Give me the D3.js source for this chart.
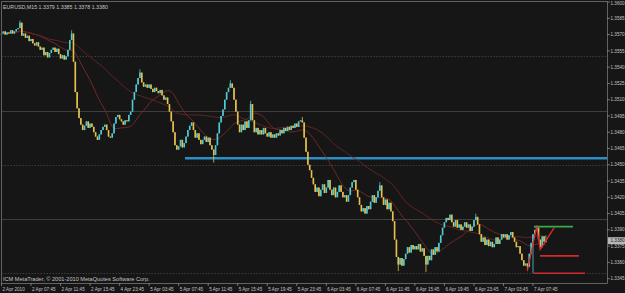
<!DOCTYPE html>
<html>
<head>
<meta charset="utf-8">
<script src="https://cdn.jsdelivr.net/npm/d3@7"></script>
<style>
    html, body { margin: 0; padding: 0; background: #161616; }
    svg { display: block; }
    text { font-family: "Liberation Sans", Arial, sans-serif; font-size: 4.6px; fill: #c4c4c4; }
    .hdr { font-size: 5.3px; }
    .ftr { font-size: 5.6px; }
</style>
</head>
<body>
<div id="chart"></div>
<script>
/* chart texts */
const headerText = "EURUSD,M15  1.3379 1.3385 1.3378 1.3380";
const footerText = "ICM MetaTrader, \u00a9 2001-2010 MetaQuotes Software Corp.";

/* time axis labels, one every 16 bars (4 hours of M15) */
const timeLabels = ["2 Apr 2010", "2 Apr 07:45", "2 Apr 11:45", "2 Apr 15:45", "4 Apr 23:45",
    "5 Apr 03:45", "5 Apr 07:45", "5 Apr 11:45", "5 Apr 15:45", "5 Apr 19:45", "5 Apr 23:45",
    "6 Apr 03:45", "6 Apr 07:45", "6 Apr 11:45", "6 Apr 15:45", "6 Apr 19:45", "6 Apr 23:45",
    "7 Apr 03:45", "7 Apr 07:45"];
const barsPerLabel = 16;

/* price axis labels */
const priceTicks = [1.3600, 1.3585, 1.3570, 1.3555, 1.3540, 1.3525, 1.3510, 1.3495, 1.3480,
    1.3465, 1.3450, 1.3435, 1.3420, 1.3405, 1.3390, 1.3375, 1.3360, 1.3345];
const lastPrice = 1.3380;

/* M15 closes, open of each bar is the previous close */
const firstOpen = 1.3570;
const closes = [
    1.3571, 1.3573, 1.3570, 1.3572, 1.3571, 1.3574, 1.3571, 1.3573, 1.3575, 1.3576,
    1.3581, 1.3569, 1.3571, 1.3567, 1.3569, 1.3564, 1.3566, 1.3562, 1.3560, 1.3563,
    1.3559, 1.3556, 1.3558, 1.3551, 1.3554, 1.3549, 1.3553, 1.3556, 1.3558, 1.3554,
    1.3557, 1.3552, 1.3548, 1.3551, 1.3547, 1.3550, 1.3556, 1.3565, 1.3571, 1.3545,
    1.3517, 1.3502, 1.3493, 1.3487, 1.3482, 1.3486, 1.3490, 1.3484, 1.3488, 1.3485,
    1.3480, 1.3476, 1.3473, 1.3478, 1.3482, 1.3485, 1.3487, 1.3482, 1.3476, 1.3475,
    1.3479, 1.3488, 1.3494, 1.3496, 1.3492, 1.3490, 1.3487, 1.3491, 1.3490, 1.3496,
    1.3499, 1.3510, 1.3517, 1.3524, 1.3530, 1.3535, 1.3526, 1.3522, 1.3524, 1.3521,
    1.3524, 1.3520, 1.3517, 1.3521, 1.3518, 1.3516, 1.3519, 1.3514, 1.3510, 1.3512,
    1.3506, 1.3499, 1.3490, 1.3480, 1.3468, 1.3464, 1.3467, 1.3473, 1.3466, 1.3470,
    1.3476, 1.3482, 1.3486, 1.3489, 1.3482, 1.3475, 1.3479, 1.3473, 1.3469, 1.3473,
    1.3476, 1.3471, 1.3475, 1.3468, 1.3464, 1.3459, 1.3468, 1.3479, 1.3489, 1.3495,
    1.3501, 1.3510, 1.3517, 1.3521, 1.3525, 1.3521, 1.3510, 1.3499, 1.3487, 1.3480,
    1.3487, 1.3482, 1.3490, 1.3484, 1.3491, 1.3506, 1.3491, 1.3480, 1.3484, 1.3478,
    1.3482, 1.3478, 1.3484, 1.3479, 1.3476, 1.3480, 1.3475, 1.3478, 1.3475, 1.3479,
    1.3477, 1.3482, 1.3479, 1.3484, 1.3481, 1.3485, 1.3482, 1.3486, 1.3484, 1.3488,
    1.3485, 1.3490, 1.3491, 1.3489, 1.3475, 1.3462, 1.3450, 1.3445, 1.3438, 1.3432,
    1.3425, 1.3429, 1.3421, 1.3427, 1.3432, 1.3424, 1.3429, 1.3436, 1.3427, 1.3422,
    1.3429, 1.3420, 1.3425, 1.3431, 1.3425, 1.3420, 1.3422, 1.3416, 1.3422, 1.3429,
    1.3434, 1.3436, 1.3427, 1.3420, 1.3413, 1.3407, 1.3410, 1.3405, 1.3412, 1.3409,
    1.3416, 1.3422, 1.3415, 1.3420, 1.3426, 1.3431, 1.3420, 1.3413, 1.3418, 1.3409,
    1.3415, 1.3407, 1.3398, 1.3381, 1.3365, 1.3358, 1.3364, 1.3357, 1.3363, 1.3368,
    1.3374, 1.3369, 1.3376, 1.3372, 1.3375, 1.3372, 1.3377, 1.3370, 1.3373, 1.3366,
    1.3358, 1.3366, 1.3362, 1.3372, 1.3367, 1.3374, 1.3370, 1.3378, 1.3385, 1.3392,
    1.3397, 1.3401, 1.3399, 1.3404, 1.3397, 1.3393, 1.3399, 1.3392, 1.3395, 1.3390,
    1.3393, 1.3397, 1.3392, 1.3395, 1.3389, 1.3393, 1.3399, 1.3402, 1.3395, 1.3386,
    1.3379, 1.3383, 1.3376, 1.3381, 1.3375, 1.3379, 1.3374, 1.3377, 1.3383, 1.3377,
    1.3381, 1.3386, 1.3383, 1.3386, 1.3381, 1.3385, 1.3388, 1.3383, 1.3379, 1.3374,
    1.3375, 1.3368, 1.3362, 1.3357, 1.3359, 1.3356, 1.3368, 1.3378, 1.3386, 1.3390,
    1.3392, 1.3381, 1.3374, 1.3384, 1.3379, 1.3380
];

/* bars whose wicks stick out of the body: [bar, high, low] */
const wicks = [
    [10, 1.3583, null], [38, 1.3574, null], [75, 1.3538, null], [115, null, 1.3452],
    [124, 1.3528, null], [135, 1.3509, null], [163, 1.3494, null], [205, 1.3434, null],
    [215, null, 1.3352], [230, null, 1.3351], [257, 1.3405, null], [285, null, 1.3353],
    [288, null, 1.3350], [290, 1.3394, null], [295, 1.3385, 1.3378]
];

/* moving average periods */
const maPeriods = [21, 55];

/* round number levels: dotted and solid */
const dottedLevels = [1.3550, 1.3450, 1.3350];
const solidLevels = [1.3500, 1.3400];

/* drawn objects, bar index / price */
const supportLine = { price: 1.3456, fromBar: 99.4 };
const levelLines = [
    { price: 1.3393, fromBar: 288.5, toBar: 309.7, kind: "high" },
    { price: 1.3366, fromBar: 291.8, toBar: 312.9, kind: "mid" },
    { price: 1.3350, fromBar: 288.5, toBar: 316.2, kind: "low" }
];
const zigzag = [[284.9, 1.3352], [290.0, 1.3393], [291.9, 1.3372], [299.5, 1.3392]];

/* layout */
const W = 625, H = 293;
const plotLeft = 1.5, plotRight = 607, plotTop = 1, plotBottom = 283;

const svg = d3.select("#chart").append("svg")
    .attr("width", W).attr("height", H);

svg.append("rect").attr("width", W).attr("height", H).attr("fill", "#161616");

/* scales */
const xScale = d3.scaleLinear()
    .domain([0, (timeLabels.length - 1) * barsPerLabel])
    .range([1.5, 533]);
const yScale = d3.scaleLinear()
    .domain([1.3341, 1.3601])
    .range([plotBottom, plotTop]);

/* build candles */
const wickMap = new Map(wicks.map(w => [w[0], w]));
const candles = closes.map((c, i) => {
    const o = i === 0 ? firstOpen : closes[i - 1];
    const w = wickMap.get(i);
    let hi = Math.max(o, c), lo = Math.min(o, c);
    if (w) {
        if (w[1] !== null) hi = Math.max(hi, w[1]);
        if (w[2] !== null) lo = Math.min(lo, w[2]);
    }
    return { i: i, o: o, c: c, h: hi, l: lo, up: c >= o };
});

const plot = svg.append("g");

/* round-number levels */
plot.selectAll(".dotted").data(dottedLevels).join("line")
    .attr("x1", plotLeft).attr("x2", plotRight)
    .attr("y1", d => Math.round(yScale(d)) + 0.5).attr("y2", d => Math.round(yScale(d)) + 0.5)
    .attr("stroke", "#3c3c3c").attr("stroke-width", 1).attr("stroke-dasharray", "1.5,1.5");
plot.selectAll(".solid").data(solidLevels).join("line")
    .attr("x1", plotLeft).attr("x2", plotRight)
    .attr("y1", d => Math.round(yScale(d)) + 0.5).attr("y2", d => Math.round(yScale(d)) + 0.5)
    .attr("stroke", "#3e3e3e").attr("stroke-width", 1);

/* blue support line */
plot.append("line")
    .attr("x1", xScale(supportLine.fromBar)).attr("x2", plotRight)
    .attr("y1", yScale(supportLine.price)).attr("y2", yScale(supportLine.price))
    .attr("stroke", "#2d8dc6").attr("stroke-width", 2.4);

/* moving averages */
const maColors = ["#7a2a26", "#6a2622"];
maPeriods.forEach((p, k) => {
    const ma = closes.map((c, i) => {
        const from = Math.max(0, i - p + 1);
        return { i: i, v: d3.mean(closes.slice(from, i + 1)) };
    });
    plot.append("path")
        .attr("d", d3.line().x(d => xScale(d.i)).y(d => yScale(d.v))(ma))
        .attr("fill", "none").attr("stroke", maColors[k]).attr("stroke-width", 0.9);
});

/* candles */
const bullColor = "#4fcbd5", bearColor = "#e4c04c";
const cg = plot.append("g");
cg.selectAll("line").data(candles).join("line")
    .attr("x1", d => xScale(d.i)).attr("x2", d => xScale(d.i))
    .attr("y1", d => yScale(d.h)).attr("y2", d => yScale(d.l))
    .attr("stroke", d => d.up ? bullColor : bearColor).attr("stroke-width", 0.8);
cg.selectAll("rect").data(candles).join("rect")
    .attr("x", d => xScale(d.i) - 0.8).attr("width", 1.6)
    .attr("y", d => Math.min(yScale(d.o), yScale(d.c)))
    .attr("height", d => Math.max(1, Math.abs(yScale(d.o) - yScale(d.c))))
    .attr("fill", d => d.up ? bullColor : bearColor);

/* level lines near the last bars */
const levelColors = { high: "#3caa48", mid: "#d42a2a", low: "#d42a2a" };
plot.selectAll(".lvl").data(levelLines).join("line")
    .attr("x1", d => xScale(d.fromBar)).attr("x2", d => xScale(d.toBar))
    .attr("y1", d => yScale(d.price)).attr("y2", d => yScale(d.price))
    .attr("stroke", d => levelColors[d.kind]).attr("stroke-width", 1.6);

/* zigzag */
plot.append("path")
    .attr("d", d3.line().x(d => xScale(d[0])).y(d => yScale(d[1]))(zigzag))
    .attr("fill", "none").attr("stroke", "#e02a2a").attr("stroke-width", 1.3);

/* frame */
svg.append("path")
    .attr("d", `M${plotLeft},${plotBottom}V${plotTop + 0.5}H${plotRight + 0.5}V${plotBottom + 0.5}H${plotLeft}`)
    .attr("fill", "none").attr("stroke", "#626262").attr("stroke-width", 1);

/* price axis */
const yAxis = svg.append("g");
yAxis.selectAll("line").data(priceTicks).join("line")
    .attr("x1", plotRight).attr("x2", plotRight + 3)
    .attr("y1", d => yScale(d)).attr("y2", d => yScale(d))
    .attr("stroke", "#8a8a8a").attr("stroke-width", 0.8);
yAxis.selectAll("text").data(priceTicks).join("text")
    .attr("x", plotRight + 3.5).attr("y", d => Math.max(yScale(d), 3.5))
    .attr("dy", "0.35em")
    .text(d => d.toFixed(4));

/* last price box */
const lp = yScale(lastPrice);
svg.append("rect")
    .attr("x", plotRight + 1).attr("y", lp - 3.5).attr("width", W - plotRight).attr("height", 7)
    .attr("fill", "#b8b8b8");
svg.append("text")
    .attr("x", plotRight + 3.5).attr("y", lp).attr("dy", "0.35em")
    .style("fill", "#202020")
    .text(lastPrice.toFixed(4));

/* time axis */
const xAxis = svg.append("g");
xAxis.selectAll("line").data(timeLabels).join("line")
    .attr("x1", (d, k) => xScale(k * barsPerLabel)).attr("x2", (d, k) => xScale(k * barsPerLabel))
    .attr("y1", plotBottom).attr("y2", plotBottom + 3)
    .attr("stroke", "#8a8a8a").attr("stroke-width", 0.8);
xAxis.selectAll("text").data(timeLabels).join("text")
    .attr("x", (d, k) => xScale(k * barsPerLabel) + 1)
    .attr("y", plotBottom + 7.5)
    .text(d => d);

/* header and footer */
svg.append("text").attr("class", "hdr").attr("x", 3).attr("y", 8.5).text(headerText);
svg.append("text").attr("class", "ftr").attr("x", 3).attr("y", 281).text(footerText);
</script>
</body>
</html>
